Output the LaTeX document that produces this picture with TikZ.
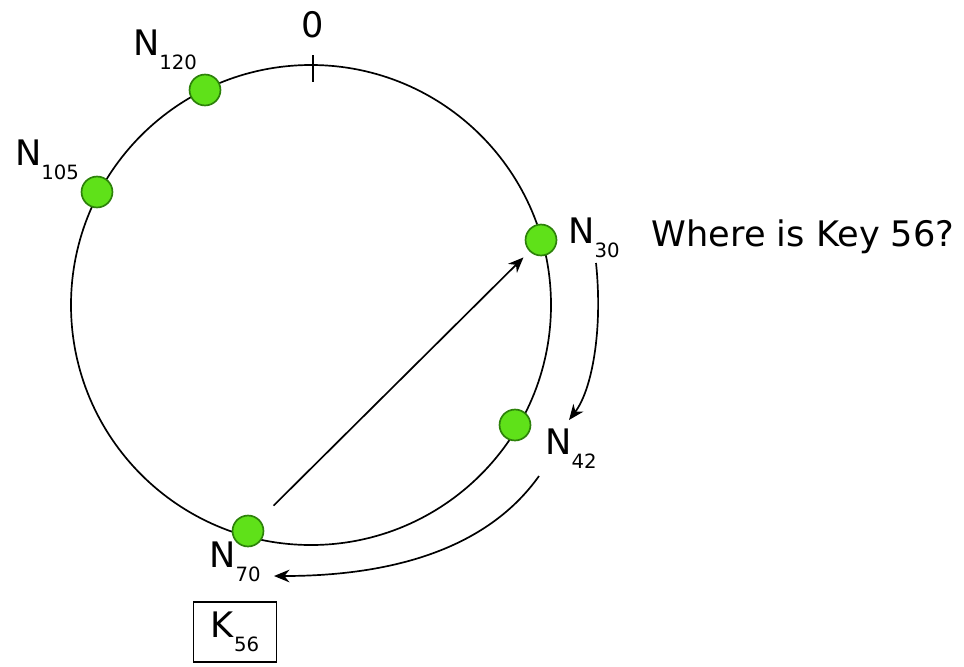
\documentclass[tikz,border=0pt]{standalone}
\usepackage{fontspec}
\setmainfont{DejaVu Sans}
\usetikzlibrary{arrows.meta}
\definecolor{dotfill}{RGB}{95,225,25}
\definecolor{dotline}{RGB}{45,130,10}
\newcommand{\ringsub}[1]{\raisebox{-10pt}{\fontsize{14}{14}\selectfont #1}}
\tikzset{
  dot/.style={circle,fill=dotfill,draw=dotline,line width=1.2pt,minimum size=22pt,inner sep=0pt},
  lab/.style={inner sep=1pt,font=\fontsize{25}{30}\selectfont},
}
\begin{document}
\begin{tikzpicture}[>={Stealth[length=11pt,width=9pt]},x=0.025cm,y=-0.025cm,line width=1.2pt]
  \useasboundingbox (0,0) rectangle (964,666);
  % ring
  \draw (311,305) circle[radius=240];
  \draw (313,55) -- (313,82);
  \node[lab] (zero) at (313,25) {0};
  % nodes on the ring
  \node[dot] (n120) at (205,90) {};
  \node[dot] (n105) at (97,192) {};
  \node[dot] (n30) at (541,240) {};
  \node[dot] (n42) at (515,425) {};
  \node[dot] (n70) at (248,531) {};
  % labels
  \node[lab] (l120) at (165,50) {N\ringsub{120}};
  \node[lab] (l105) at (47,160) {N\ringsub{105}};
  \node[lab] (l30) at (594,238) {N\ringsub{30}};
  \node[lab] (l42) at (571,449) {N\ringsub{42}};
  \node[lab] (l70) at (235,562) {N\ringsub{70}};
  \node[lab] (q) at (803,237) {Where is Key 56?};
  \node[lab,draw,line width=1pt,minimum width=2.075cm,minimum height=1.5cm] (k56) at (235,632) {K\ringsub{56}};
  % lookup
  \draw[->,shorten <=14pt,shorten >=6pt] (n70) -- (n30);
  \coordinate (a1) at (596,263);
  \coordinate (a2) at (569,420);
  \draw[->] (a1) .. controls (603,330) and (592,390) .. (a2);
  \coordinate (b1) at (539,476);
  \coordinate (b2) at (274,576);
  \draw[->] (b1) .. controls (490,545) and (400,576) .. (b2);
\end{tikzpicture}
\end{document}
